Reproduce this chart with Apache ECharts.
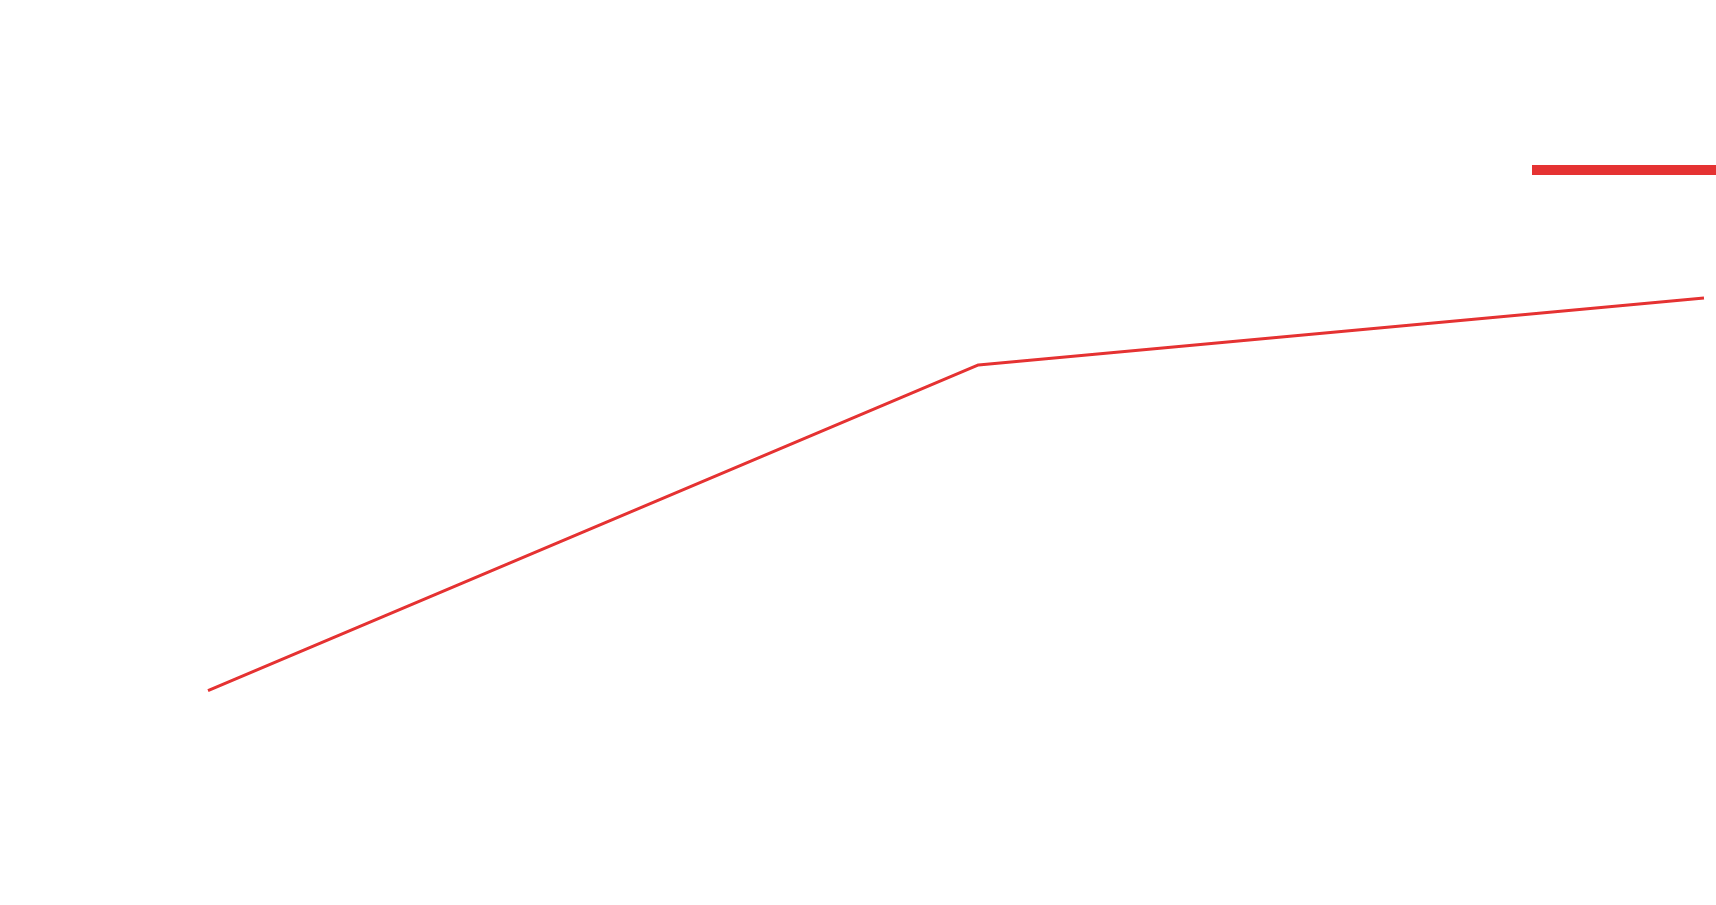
<!DOCTYPE html>
<html><head><meta charset="utf-8">
<script src="https://cdn.jsdelivr.net/npm/echarts@6/dist/echarts.min.js"></script>
<style>html,body{margin:0;background:#fff}#c{width:1716px;height:905px}</style>
</head><body><div id="c"></div>
<script>
const xValues = [0, 10.3, 20];
const yValues = [19.4, 61.7, 70.4];
const seriesName = 'Series';
const chart = echarts.init(document.getElementById('c'));
chart.setOption({
  animation: false,
  backgroundColor: '#fff',
  legend: {left: 1527, top: 159, icon: 'rect', itemWidth: 189, itemHeight: 10,
    textStyle: {color: '#fff'}, data: [seriesName]},
  grid: {left: 208, right: 12, top: 70, bottom: 65},
  xAxis: {type: 'value', min: 0, max: 20, axisLine: {show: false}, axisTick: {show: false},
    axisLabel: {color: '#fff'}, splitLine: {show: false}},
  yAxis: {type: 'value', min: 0, max: 100, interval: 20, axisLine: {show: false}, axisTick: {show: false},
    axisLabel: {color: '#fff'}, splitLine: {show: true, lineStyle: {color: '#fff', width: 2}}},
  series: [{name: seriesName, type: 'line', z: 1, showSymbol: false, color: '#e53232',
    lineStyle: {width: 3, color: '#e53232'},
    data: xValues.map((x, i) => [x, yValues[i]])}]
});
</script></body></html>
